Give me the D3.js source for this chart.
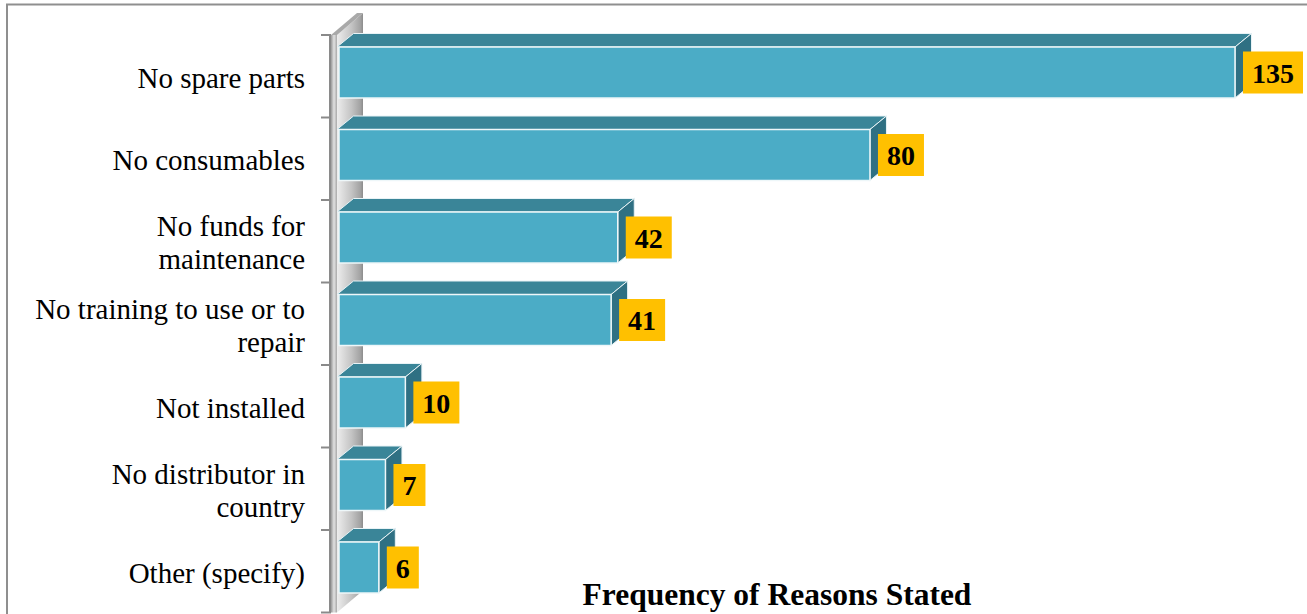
<!DOCTYPE html>
<html>
<head>
<meta charset="utf-8">
<script src="https://cdn.jsdelivr.net/npm/d3@7/dist/d3.min.js"></script>
<style>
  html, body { margin: 0; padding: 0; background: #ffffff; }
  svg { display: block; }
</style>
</head>
<body>
<svg id="chart" width="1307" height="614"></svg>
<script>
// Reasons equipment is out of use, with how often each was stated
const categories = [
  "No spare parts",
  "No consumables",
  "No funds for maintenance",
  "No training to use or to repair",
  "Not installed",
  "No distributor in country",
  "Other (specify)"
];
const categoryLines = [
  ["No spare parts"],
  ["No consumables"],
  ["No funds for", "maintenance"],
  ["No training to use or to", "repair"],
  ["Not installed"],
  ["No distributor in", "country"],
  ["Other (specify)"]
];
const frequencies = [135, 80, 42, 41, 10, 7, 6];
const axisTitle = "Frequency of Reasons Stated";

const svg = d3.select("#chart");
const serif = "'Liberation Serif', 'Times New Roman', serif";

// layout
const plotTop = 35, plotBottom = 612.5;
const barLeft = 339, barRightMax = 1235;
const depth = { dx: 16.5, dy: -13.5 };      // bar depth projection
const wallDepth = { dx: 26, dy: -22 };      // side wall depth projection

const x = d3.scaleLinear().domain([0, d3.max(frequencies)]).range([barLeft, barRightMax]);
const y = d3.scaleBand().domain(categories).range([plotTop, plotBottom]).paddingInner(0).paddingOuter(0);

const defs = svg.append("defs");
const wallGrad = defs.append("linearGradient").attr("id", "wallGrad")
  .attr("x1", "0%").attr("x2", "100%").attr("y1", "0%").attr("y2", "0%");
wallGrad.append("stop").attr("offset", "0%").attr("stop-color", "#ededed");
wallGrad.append("stop").attr("offset", "55%").attr("stop-color", "#c4c4c4");
wallGrad.append("stop").attr("offset", "90%").attr("stop-color", "#a2a2a2");
wallGrad.append("stop").attr("offset", "100%").attr("stop-color", "#8c8c8c");

const stripGrad = defs.append("linearGradient").attr("id", "stripGrad")
  .attr("x1", "0%").attr("x2", "100%").attr("y1", "0%").attr("y2", "0%");
stripGrad.append("stop").attr("offset", "0%").attr("stop-color", "#9a9a9a");
stripGrad.append("stop").attr("offset", "50%").attr("stop-color", "#e2e2e2");
stripGrad.append("stop").attr("offset", "100%").attr("stop-color", "#a8a8a8");

// outer frame
svg.append("rect")
  .attr("x", 7).attr("y", 4.5)
  .attr("width", 1400).attr("height", 700)
  .attr("fill", "none").attr("stroke", "#8f8f8f").attr("stroke-width", 2);

// side wall
const wx0 = 331, wx1 = 337;
svg.append("polygon")
  .attr("points", [
    [wx1, plotTop], [wx1 + wallDepth.dx, plotTop + wallDepth.dy],
    [wx1 + wallDepth.dx, plotBottom + wallDepth.dy], [wx1, plotBottom]
  ].map(p => p.join(",")).join(" "))
  .attr("fill", "url(#wallGrad)");
svg.append("polygon")
  .attr("points", [
    [wx0, plotTop], [wx1, plotTop],
    [wx1 + wallDepth.dx, plotTop + wallDepth.dy], [wx0 + wallDepth.dx, plotTop + wallDepth.dy]
  ].map(p => p.join(",")).join(" "))
  .attr("fill", "#a9a9a9");
svg.append("rect")
  .attr("x", wx0).attr("y", plotTop)
  .attr("width", wx1 - wx0).attr("height", plotBottom - plotTop)
  .attr("fill", "url(#stripGrad)");

// category axis with outward ticks at band boundaries
const boundaries = categories.map(c => y(c)).concat([plotBottom]);
svg.append("line")
  .attr("x1", 330).attr("x2", 330)
  .attr("y1", plotTop).attr("y2", plotBottom)
  .attr("stroke", "#8a8a8a").attr("stroke-width", 2);
svg.selectAll("line.tick").data(boundaries).join("line")
  .attr("class", "tick")
  .attr("x1", 321).attr("x2", 331)
  .attr("y1", d => d).attr("y2", d => d)
  .attr("stroke", "#8a8a8a").attr("stroke-width", 2);

// category labels
const lineH = 33;
const labelG = svg.append("g");
categories.forEach((c, i) => {
  const lines = categoryLines[i];
  const cy = y(c) + y.bandwidth() / 2;
  const t = labelG.append("text")
    .attr("text-anchor", "end")
    .attr("font-family", serif)
    .attr("font-size", 29)
    .attr("fill", "#000");
  lines.forEach((ln, k) => {
    t.append("tspan")
      .attr("x", 305)
      .attr("y", cy + 11.5 + (k - (lines.length - 1) / 2) * lineH)
      .text(ln);
  });
});

// 3D bars
const faceFront = "#4bacc6", faceTop = "#3a8598", faceSide = "#2f7083";
const barG = svg.append("g");
categories.forEach((c, i) => {
  const v = frequencies[i];
  const yt = y(c) + 12, yb = yt + 51;
  const xl = x(0), xr = x(v);
  const g = barG.append("g");
  g.append("polygon")
    .attr("points", [[xl - 2, yt], [xl - 2 + depth.dx, yt + depth.dy], [xr + depth.dx, yt + depth.dy], [xr, yt]]
      .map(p => p.join(",")).join(" "))
    .attr("fill", faceTop).attr("stroke", "#e8f3f6").attr("stroke-width", 1).attr("stroke-linejoin", "round");
  g.append("polygon")
    .attr("points", [[xr, yt], [xr + depth.dx, yt + depth.dy], [xr + depth.dx, yb + depth.dy], [xr, yb]]
      .map(p => p.join(",")).join(" "))
    .attr("fill", faceSide).attr("stroke", "#e8f3f6").attr("stroke-width", 1).attr("stroke-linejoin", "round");
  g.append("rect")
    .attr("x", xl).attr("y", yt)
    .attr("width", xr - xl).attr("height", yb - yt)
    .attr("fill", faceFront).attr("stroke", "#eef7f9").attr("stroke-width", 1.5);

  // value label box
  const lg = g.append("g");
  const txt = lg.append("text")
    .attr("font-family", serif)
    .attr("font-weight", "bold")
    .attr("font-size", 28)
    .attr("fill", "#000")
    .attr("text-anchor", "middle")
    .text(v);
  const tw = txt.node().getComputedTextLength();
  const bw = tw + 18, bh = 42;
  const bx = xr + 8, by = (yt + yb) / 2 - bh / 2;
  lg.insert("rect", "text")
    .attr("x", bx).attr("y", by).attr("width", bw).attr("height", bh)
    .attr("fill", "#ffc000");
  txt.attr("x", bx + bw / 2).attr("y", by + bh / 2 + 10);
});

// value axis title
svg.append("text")
  .attr("x", 777).attr("y", 605)
  .attr("text-anchor", "middle")
  .attr("font-family", serif)
  .attr("font-weight", "bold")
  .attr("font-size", 31.5)
  .attr("fill", "#000")
  .text(axisTitle);
</script>
</body>
</html>
